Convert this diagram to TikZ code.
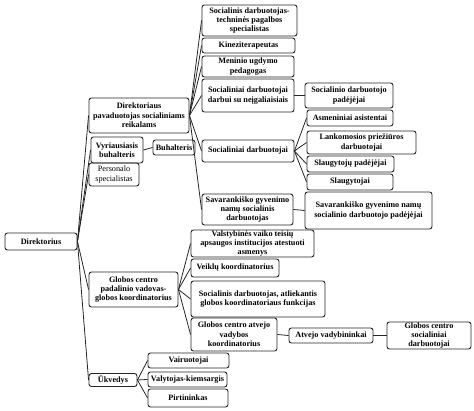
\documentclass[tikz,border=0pt]{standalone}
\usepackage{fontspec}
\setmainfont{Liberation Serif}
\begin{document}
\begin{tikzpicture}[x=1pt,y=-1pt,
  bx/.style={draw=black!85, line width=0.9pt, rounded corners=2.5pt, inner sep=0.3pt, align=center,
    font=\fontsize{8.2}{9.4}\selectfont\bfseries},
  rg/.style={font=\fontsize{8.2}{9.4}\selectfont},
  ln/.style={draw=black!85, line width=0.8pt}]
\useasboundingbox (0,0) rectangle (474,411);
\def\bxat#1#2#3#4#5#6{\node[bx,minimum width=#4pt,minimum height=#5pt] (#1) at (#2,#3) {#6};}
\bxat{dir}{41}{241.5}{72}{17}{Direktorius}
\bxat{pav}{139}{115.5}{100}{35}{Direktoriaus\\pavaduotojas socialiniams\\reikalams}
\bxat{vyr}{117}{150}{52}{26}{Vyriausiasis\\buhalteris}
\bxat{buh}{174}{147.5}{42}{15}{Buhalteris}
\node[bx,rg,minimum width=50pt,minimum height=23pt] (per) at (114,174.5) {Personalo\\specialistas};
\bxat{glob}{133.5}{289.5}{89}{35}{Globos centro\\padalinio vadovas-\\globos koordinatorius}
\bxat{ukv}{113}{380}{48}{13}{Ūkvedys}
\bxat{vai}{188.5}{360.5}{81}{15}{Vairuotojai}
\bxat{val}{187.5}{379.5}{79}{15}{Valytojas-kiemsargis}
\bxat{pir}{188}{398}{80}{18}{Pirtininkas}
\bxat{s1}{249.5}{20.5}{95}{31}{Socialinis darbuotojas-\\techninės pagalbos\\specialistas}
\bxat{kin}{248.5}{45.5}{93}{15}{Kineziterapeutas}
\bxat{men}{248}{66.5}{92}{21}{Meninio ugdymo\\pedagogas}
\bxat{sdn}{248}{95.5}{92}{33}{Socialiniai darbuotojai\\darbui su neįgaliaisiais}
\bxat{sdp}{349}{95.5}{88}{25}{Socialinio darbuotojo\\padėjėjai}
\bxat{asm}{350}{118}{86}{16}{Asmeniniai asistentai}
\bxat{sd}{248}{151}{92}{22}{Socialiniai darbuotojai}
\bxat{lan}{361.5}{142.5}{109}{23}{Lankomosios priežiūros\\darbuotojai}
\bxat{slp}{350.5}{164}{87}{16}{Slaugytojų padėjėjai}
\bxat{sla}{350}{182}{86}{16}{Slaugytojai}
\bxat{sav}{247.5}{209.5}{91}{31}{Savarankiško gyvenimo\\namų socialinis\\darbuotojas}
\bxat{savp}{368.5}{210.5}{127}{37}{Savarankiško gyvenimo namų\\socialinio darbuotojo padėjėjai}
\bxat{vst}{252.5}{243.5}{123}{27}{Valstybinės vaiko teisių\\apsaugos institucijos atestuoti\\asmenys}
\bxat{vei}{235}{268}{88}{18}{Veiklų koordinatorius}
\bxat{sda}{258}{299}{134}{36}{Socialinis darbuotojas, atliekantis\\globos koordinatoriaus funkcijas}
\bxat{gca}{234}{334.5}{86}{33}{Globos centro atvejo\\vadybos\\koordinatorius}
\bxat{atv}{331}{335.5}{84}{15}{Atvejo vadybininkai}
\bxat{gcs}{429}{335.5}{84}{27}{Globos centro\\socialiniai\\darbuotojai}
\foreach \c in {pav,vyr,per,glob,ukv} \draw[ln] (dir.east) -- (\c.west);
\draw[ln] (vyr.east) -- (buh.west);
\foreach \c in {s1,kin,men,sdn,sd,sav} \draw[ln] (pav.east) -- (\c.west);
\draw[ln] (sdn.east) -- (sdp.west);
\foreach \c in {asm,lan,slp,sla} \draw[ln] (sd.east) -- (\c.west);
\draw[ln] (sav.east) -- (savp.west);
\foreach \c in {vst,vei,sda,gca} \draw[ln] (glob.east) -- (\c.west);
\draw[ln] (gca.east) -- (atv.west);
\draw[ln] (atv.east) -- (gcs.west);
\foreach \c in {vai,val,pir} \draw[ln] (ukv.east) -- (\c.west);
\end{tikzpicture}
\end{document}
